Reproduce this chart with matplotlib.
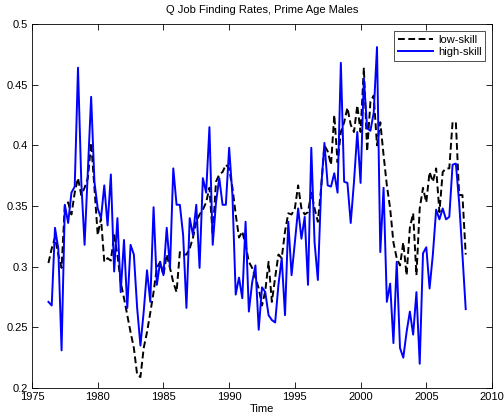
import matplotlib
matplotlib.use("Agg")
import matplotlib.pyplot as plt
import numpy as np

start_year = 1976.25
low_skill = [0.303, 0.315, 0.324, 0.310, 0.299, 0.351, 0.353, 0.343, 0.361, 0.373,
             0.359, 0.365, 0.373, 0.402, 0.365, 0.326, 0.340, 0.304, 0.307, 0.305,
             0.326, 0.310, 0.287, 0.274, 0.260, 0.246, 0.233, 0.211, 0.209, 0.233,
             0.246, 0.262, 0.279, 0.299, 0.304, 0.293, 0.310, 0.299, 0.287, 0.279,
             0.312, 0.310, 0.310, 0.315, 0.324, 0.337, 0.343, 0.347, 0.353, 0.365,
             0.326, 0.370, 0.376, 0.378, 0.384, 0.381, 0.365, 0.343, 0.324, 0.329,
             0.318, 0.304, 0.299, 0.291, 0.282, 0.268, 0.280, 0.304, 0.271, 0.291,
             0.310, 0.307, 0.329, 0.344, 0.343, 0.348, 0.367, 0.348, 0.343, 0.345,
             0.361, 0.348, 0.337, 0.365, 0.400, 0.395, 0.384, 0.425, 0.386, 0.411,
             0.419, 0.431, 0.417, 0.411, 0.433, 0.411, 0.464, 0.395, 0.436, 0.441,
             0.400, 0.419, 0.392, 0.367, 0.348, 0.320, 0.307, 0.301, 0.320, 0.293,
             0.332, 0.344, 0.293, 0.348, 0.365, 0.353, 0.378, 0.370, 0.381, 0.345,
             0.378, 0.381, 0.381, 0.419, 0.419, 0.359, 0.359, 0.310]
high_skill = [0.271, 0.268, 0.332, 0.315, 0.231, 0.351, 0.336, 0.361, 0.366, 0.464,
              0.370, 0.318, 0.380, 0.440, 0.370, 0.348, 0.340, 0.367, 0.334, 0.376,
              0.296, 0.340, 0.279, 0.322, 0.266, 0.318, 0.310, 0.266, 0.235, 0.263,
              0.297, 0.271, 0.349, 0.285, 0.304, 0.293, 0.332, 0.299, 0.381, 0.351,
              0.351, 0.326, 0.266, 0.340, 0.326, 0.351, 0.299, 0.373, 0.361, 0.415,
              0.318, 0.353, 0.373, 0.351, 0.351, 0.398, 0.359, 0.277, 0.291, 0.274,
              0.337, 0.263, 0.287, 0.301, 0.248, 0.283, 0.279, 0.260, 0.256, 0.254,
              0.285, 0.307, 0.260, 0.337, 0.293, 0.320, 0.348, 0.323, 0.341, 0.285,
              0.398, 0.320, 0.289, 0.365, 0.402, 0.367, 0.366, 0.377, 0.361, 0.468,
              0.370, 0.369, 0.336, 0.370, 0.411, 0.369, 0.455, 0.414, 0.412, 0.427,
              0.481, 0.312, 0.365, 0.271, 0.286, 0.237, 0.304, 0.233, 0.225, 0.246,
              0.263, 0.244, 0.279, 0.220, 0.311, 0.316, 0.282, 0.310, 0.347, 0.339,
              0.348, 0.339, 0.341, 0.384, 0.385, 0.353, 0.310, 0.265]

years = start_year + 0.25 * np.arange(len(low_skill))

plt.rcParams['font.family'] = ['Liberation Sans', 'DejaVu Sans']
fig = plt.figure(figsize=(5.04, 4.17), dpi=100)
ax = fig.add_axes([32/504, 29/417, 460/504, 364/417])

ax.plot(years, low_skill, color='black', linestyle='--', linewidth=1.4,
        dashes=(3.5, 1.8), label='low-skill')
ax.plot(years, high_skill, color=(0, 0, 1), linestyle='-', linewidth=1.4,
        label='high-skill')

ax.set_xlim(1975, 2010)
ax.set_ylim(0.2, 0.5)
ax.set_xticks(np.arange(1975, 2011, 5))
ax.set_yticks(np.arange(0.2, 0.501, 0.05))
ax.set_yticklabels(['0.2', '0.25', '0.3', '0.35', '0.4', '0.45', '0.5'])
ax.tick_params(direction='in', top=True, right=True, labelsize=8, length=4,
               width=0.6, pad=3)
for s in ax.spines.values():
    s.set_linewidth(0.6)
ax.set_title('Q Job Finding Rates, Prime Age Males', fontsize=8, pad=8)
ax.set_xlabel('Time', fontsize=8, labelpad=1)

leg = ax.legend(loc='upper right', fontsize=8, frameon=True, fancybox=False,
                edgecolor='black', handlelength=3.2, borderpad=0.35,
                labelspacing=0.25, handletextpad=0.4, borderaxespad=0.6)
leg.get_frame().set_linewidth(0.6)

fig.savefig('out.png', dpi=100)
